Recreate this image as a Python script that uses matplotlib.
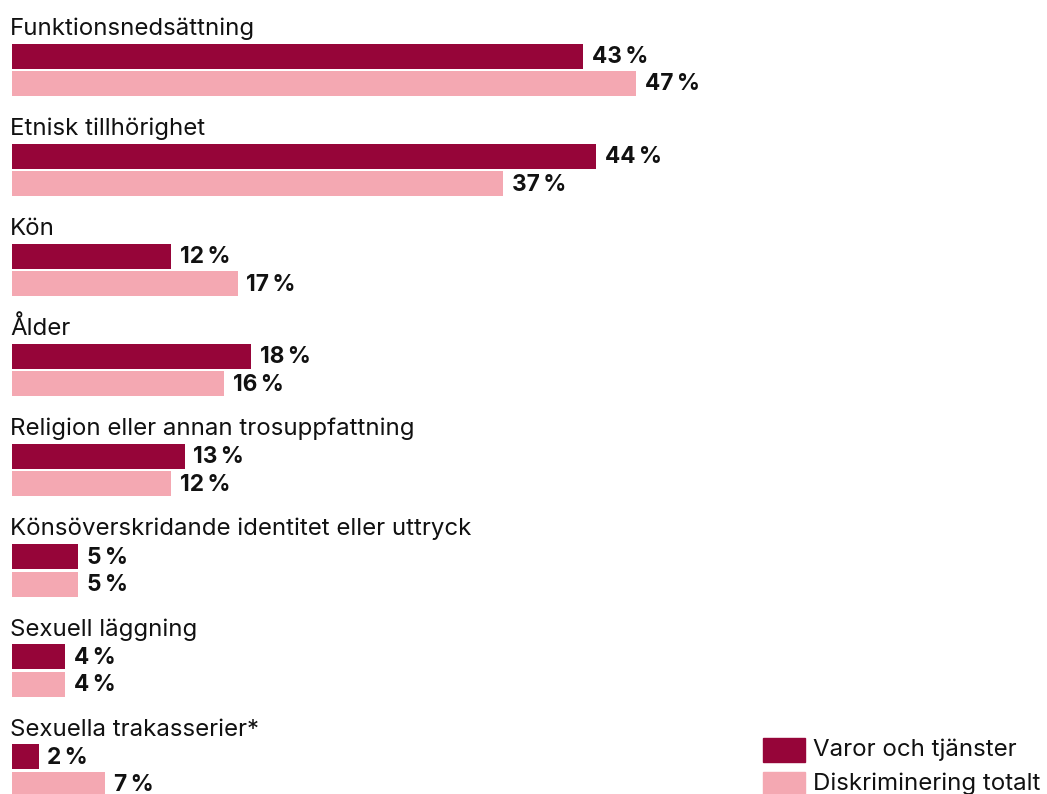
import matplotlib
matplotlib.use("Agg")
import matplotlib.pyplot as plt
from matplotlib.patches import Rectangle

categories = ["Funktionsnedsättning", "Etnisk tillhörighet", "Kön", "Ålder",
              "Religion eller annan trosuppfattning",
              "Könsöverskridande identitet eller uttryck",
              "Sexuell läggning", "Sexuella trakasserier*"]
varor = [43, 44, 12, 18, 13, 5, 4, 2]
totalt = [47, 37, 17, 16, 12, 5, 4, 7]
series_names = ["Varor och tjänster", "Diskriminering totalt"]

DARK = "#960539"
LIGHT = "#f4a8b2"
W, H = 1047, 794

plt.rcParams['font.family'] = ['Inter', 'DejaVu Sans']
fig = plt.figure(figsize=(W/100, H/100), dpi=100)
ax = fig.add_axes([12/W, 0, (W-12)/W, 1])
ax.set_xlim(0, (W-12)/13.28)
ax.set_ylim(H, 0)
ax.axis('off')

step = 100.1
bh = 25
FS = 17.3
for i, (c, a, b) in enumerate(zip(categories, varor, totalt)):
    y0 = 35 + i*step
    ax.text(-0.15, y0, c, fontsize=FS, va='baseline', ha='left', color='#111111')
    yd = 43.5 + i*step + bh/2
    yl = 71 + i*step + bh/2
    ax.barh(yd, a, height=bh, color=DARK, left=0)
    ax.barh(yl, b, height=bh, color=LIGHT, left=0)
    ax.text(a + 0.65, yd + 1, f"{a}\u2009%", fontsize=16.3, fontweight='bold', va='center', ha='left', color='#111111')
    ax.text(b + 0.65, yl + 1, f"{b}\u2009%", fontsize=16.3, fontweight='bold', va='center', ha='left', color='#111111')

# legend
for j, (name, col) in enumerate(zip(series_names, [DARK, LIGHT])):
    top = 738 + j*34
    fig.add_artist(Rectangle((763/W, 1 - (top+24)/H), 42/W, 24/H, transform=fig.transFigure, color=col))
    fig.text(813/W, 1 - (top+12)/H, name, fontsize=FS, va='center', ha='left', color='#111111')

fig.savefig("out.png", dpi=100)
